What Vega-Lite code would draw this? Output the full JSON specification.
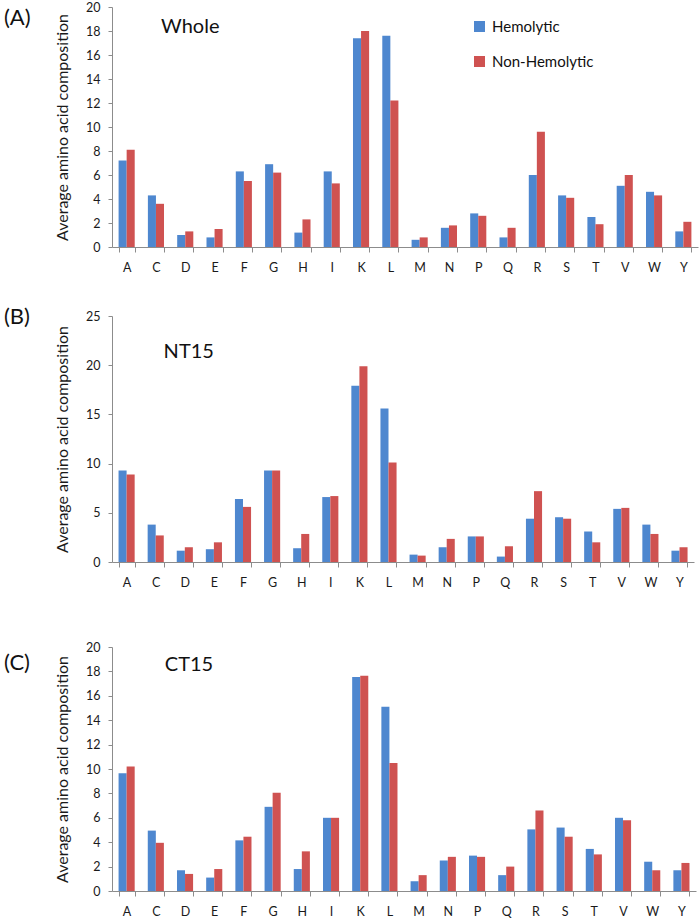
{
  "$schema": "https://vega.github.io/schema/vega-lite/v6.json",
  "background": "white",
  "padding": {"left": 4, "top": 1, "right": 2, "bottom": 0},
  "bounds": "flush",
  "spacing": 69,
  "config": {
    "font": "Lato",
    "view": {"stroke": null},
    "axis": {
      "domainColor": "#8c8c8c",
      "tickColor": "#8c8c8c",
      "labelColor": "#1a1a1a",
      "labelFont": "Lato",
      "labelFontSize": 12.5,
      "labelOverlap": false,
      "titleFont": "Lato",
      "titleFontSize": 16,
      "titleFontWeight": "normal",
      "titleColor": "#1a1a1a",
      "grid": false
    },
    "axisX": {"tickSize": 5, "labelPadding": 9.5, "tickBand": "extent", "labelAngle": 0, "title": null},
    "axisY": {"tickSize": 4, "labelPadding": 8, "titlePadding": 15},
    "title": {"font": "Lato", "fontSize": 22, "fontWeight": "normal", "color": "#111111", "anchor": "start", "frame": "group", "offset": 0, "baseline": "middle"}
  },
  "datasets": {
    "whole": [
      {"aa": "A", "group": "Hemolytic", "value": 7.2}, {"aa": "A", "group": "Non-Hemolytic", "value": 8.1},
      {"aa": "C", "group": "Hemolytic", "value": 4.3}, {"aa": "C", "group": "Non-Hemolytic", "value": 3.6},
      {"aa": "D", "group": "Hemolytic", "value": 1.0}, {"aa": "D", "group": "Non-Hemolytic", "value": 1.3},
      {"aa": "E", "group": "Hemolytic", "value": 0.8}, {"aa": "E", "group": "Non-Hemolytic", "value": 1.5},
      {"aa": "F", "group": "Hemolytic", "value": 6.3}, {"aa": "F", "group": "Non-Hemolytic", "value": 5.5},
      {"aa": "G", "group": "Hemolytic", "value": 6.9}, {"aa": "G", "group": "Non-Hemolytic", "value": 6.2},
      {"aa": "H", "group": "Hemolytic", "value": 1.2}, {"aa": "H", "group": "Non-Hemolytic", "value": 2.3},
      {"aa": "I", "group": "Hemolytic", "value": 6.3}, {"aa": "I", "group": "Non-Hemolytic", "value": 5.3},
      {"aa": "K", "group": "Hemolytic", "value": 17.4}, {"aa": "K", "group": "Non-Hemolytic", "value": 18.0},
      {"aa": "L", "group": "Hemolytic", "value": 17.6}, {"aa": "L", "group": "Non-Hemolytic", "value": 12.2},
      {"aa": "M", "group": "Hemolytic", "value": 0.6}, {"aa": "M", "group": "Non-Hemolytic", "value": 0.8},
      {"aa": "N", "group": "Hemolytic", "value": 1.6}, {"aa": "N", "group": "Non-Hemolytic", "value": 1.8},
      {"aa": "P", "group": "Hemolytic", "value": 2.8}, {"aa": "P", "group": "Non-Hemolytic", "value": 2.6},
      {"aa": "Q", "group": "Hemolytic", "value": 0.8}, {"aa": "Q", "group": "Non-Hemolytic", "value": 1.6},
      {"aa": "R", "group": "Hemolytic", "value": 6.0}, {"aa": "R", "group": "Non-Hemolytic", "value": 9.6},
      {"aa": "S", "group": "Hemolytic", "value": 4.3}, {"aa": "S", "group": "Non-Hemolytic", "value": 4.1},
      {"aa": "T", "group": "Hemolytic", "value": 2.5}, {"aa": "T", "group": "Non-Hemolytic", "value": 1.9},
      {"aa": "V", "group": "Hemolytic", "value": 5.1}, {"aa": "V", "group": "Non-Hemolytic", "value": 6.0},
      {"aa": "W", "group": "Hemolytic", "value": 4.6}, {"aa": "W", "group": "Non-Hemolytic", "value": 4.3},
      {"aa": "Y", "group": "Hemolytic", "value": 1.3}, {"aa": "Y", "group": "Non-Hemolytic", "value": 2.1}
    ],
    "nt15": [
      {"aa": "A", "group": "Hemolytic", "value": 9.3}, {"aa": "A", "group": "Non-Hemolytic", "value": 8.9},
      {"aa": "C", "group": "Hemolytic", "value": 3.8}, {"aa": "C", "group": "Non-Hemolytic", "value": 2.7},
      {"aa": "D", "group": "Hemolytic", "value": 1.15}, {"aa": "D", "group": "Non-Hemolytic", "value": 1.5},
      {"aa": "E", "group": "Hemolytic", "value": 1.3}, {"aa": "E", "group": "Non-Hemolytic", "value": 2.0},
      {"aa": "F", "group": "Hemolytic", "value": 6.4}, {"aa": "F", "group": "Non-Hemolytic", "value": 5.6},
      {"aa": "G", "group": "Hemolytic", "value": 9.3}, {"aa": "G", "group": "Non-Hemolytic", "value": 9.3},
      {"aa": "H", "group": "Hemolytic", "value": 1.4}, {"aa": "H", "group": "Non-Hemolytic", "value": 2.85},
      {"aa": "I", "group": "Hemolytic", "value": 6.6}, {"aa": "I", "group": "Non-Hemolytic", "value": 6.7},
      {"aa": "K", "group": "Hemolytic", "value": 17.9}, {"aa": "K", "group": "Non-Hemolytic", "value": 19.9},
      {"aa": "L", "group": "Hemolytic", "value": 15.6}, {"aa": "L", "group": "Non-Hemolytic", "value": 10.1},
      {"aa": "M", "group": "Hemolytic", "value": 0.75}, {"aa": "M", "group": "Non-Hemolytic", "value": 0.65},
      {"aa": "N", "group": "Hemolytic", "value": 1.5}, {"aa": "N", "group": "Non-Hemolytic", "value": 2.35},
      {"aa": "P", "group": "Hemolytic", "value": 2.6}, {"aa": "P", "group": "Non-Hemolytic", "value": 2.6},
      {"aa": "Q", "group": "Hemolytic", "value": 0.55}, {"aa": "Q", "group": "Non-Hemolytic", "value": 1.6},
      {"aa": "R", "group": "Hemolytic", "value": 4.4}, {"aa": "R", "group": "Non-Hemolytic", "value": 7.2},
      {"aa": "S", "group": "Hemolytic", "value": 4.55}, {"aa": "S", "group": "Non-Hemolytic", "value": 4.4},
      {"aa": "T", "group": "Hemolytic", "value": 3.1}, {"aa": "T", "group": "Non-Hemolytic", "value": 2.0},
      {"aa": "V", "group": "Hemolytic", "value": 5.4}, {"aa": "V", "group": "Non-Hemolytic", "value": 5.5},
      {"aa": "W", "group": "Hemolytic", "value": 3.8}, {"aa": "W", "group": "Non-Hemolytic", "value": 2.85},
      {"aa": "Y", "group": "Hemolytic", "value": 1.15}, {"aa": "Y", "group": "Non-Hemolytic", "value": 1.5}
    ],
    "ct15": [
      {"aa": "A", "group": "Hemolytic", "value": 9.65}, {"aa": "A", "group": "Non-Hemolytic", "value": 10.2},
      {"aa": "C", "group": "Hemolytic", "value": 4.95}, {"aa": "C", "group": "Non-Hemolytic", "value": 3.95},
      {"aa": "D", "group": "Hemolytic", "value": 1.7}, {"aa": "D", "group": "Non-Hemolytic", "value": 1.4},
      {"aa": "E", "group": "Hemolytic", "value": 1.1}, {"aa": "E", "group": "Non-Hemolytic", "value": 1.8},
      {"aa": "F", "group": "Hemolytic", "value": 4.15}, {"aa": "F", "group": "Non-Hemolytic", "value": 4.45},
      {"aa": "G", "group": "Hemolytic", "value": 6.9}, {"aa": "G", "group": "Non-Hemolytic", "value": 8.05},
      {"aa": "H", "group": "Hemolytic", "value": 1.8}, {"aa": "H", "group": "Non-Hemolytic", "value": 3.25},
      {"aa": "I", "group": "Hemolytic", "value": 6.0}, {"aa": "I", "group": "Non-Hemolytic", "value": 6.0},
      {"aa": "K", "group": "Hemolytic", "value": 17.55}, {"aa": "K", "group": "Non-Hemolytic", "value": 17.65},
      {"aa": "L", "group": "Hemolytic", "value": 15.1}, {"aa": "L", "group": "Non-Hemolytic", "value": 10.5},
      {"aa": "M", "group": "Hemolytic", "value": 0.8}, {"aa": "M", "group": "Non-Hemolytic", "value": 1.3},
      {"aa": "N", "group": "Hemolytic", "value": 2.5}, {"aa": "N", "group": "Non-Hemolytic", "value": 2.8},
      {"aa": "P", "group": "Hemolytic", "value": 2.9}, {"aa": "P", "group": "Non-Hemolytic", "value": 2.8},
      {"aa": "Q", "group": "Hemolytic", "value": 1.3}, {"aa": "Q", "group": "Non-Hemolytic", "value": 2.0},
      {"aa": "R", "group": "Hemolytic", "value": 5.05}, {"aa": "R", "group": "Non-Hemolytic", "value": 6.6},
      {"aa": "S", "group": "Hemolytic", "value": 5.2}, {"aa": "S", "group": "Non-Hemolytic", "value": 4.45},
      {"aa": "T", "group": "Hemolytic", "value": 3.45}, {"aa": "T", "group": "Non-Hemolytic", "value": 3.0},
      {"aa": "V", "group": "Hemolytic", "value": 6.0}, {"aa": "V", "group": "Non-Hemolytic", "value": 5.8},
      {"aa": "W", "group": "Hemolytic", "value": 2.4}, {"aa": "W", "group": "Non-Hemolytic", "value": 1.7},
      {"aa": "Y", "group": "Hemolytic", "value": 1.7}, {"aa": "Y", "group": "Non-Hemolytic", "value": 2.3}
    ]
  },
  "resolve": {"scale": {"x": "independent", "y": "independent"}, "legend": {"color": "independent"}},
  "vconcat": [
    {
      "width": 586,
      "height": 240,
      "title": {"text": "(A)", "dx": -108, "dy": 33},
      "layer": [
        {
          "data": {"name": "whole"},
          "mark": {"type": "bar"},
          "encoding": {
            "x": {"field": "aa", "type": "nominal", "scale": {"domain": ["A","C","D","E","F","G","H","I","K","L","M","N","P","Q","R","S","T","V","W","Y"], "paddingInner": 0.45, "paddingOuter": 0.225}},
            "xOffset": {"field": "group", "type": "nominal", "scale": {"domain": ["Hemolytic", "Non-Hemolytic"]}},
            "y": {"field": "value", "type": "quantitative", "scale": {"domain": [0, 20], "nice": false}, "axis": {"values": [0,2,4,6,8,10,12,14,16,18,20], "tickCount": 11, "labelOverlap": false, "title": "Average amino acid composition"}},
            "color": {"field": "group", "type": "nominal", "scale": {"domain": ["Hemolytic", "Non-Hemolytic"], "range": ["#4e87cf", "#cf5251"]},
              "legend": {"title": null, "orient": "none", "legendX": 360, "legendY": 12, "symbolType": "square", "symbolSize": 121, "symbolStrokeWidth": 0, "labelFontSize": 15, "labelFont": "Lato", "labelColor": "#111111", "labelOffset": 5, "rowPadding": 19}}
          }
        },
        {
          "data": {"values": [{"aa": "D", "value": 18.3, "label": "Whole"}]},
          "mark": {"type": "text", "fontSize": 20, "font": "Lato", "color": "#111111", "dx": 5},
          "encoding": {
            "x": {"field": "aa", "type": "nominal"},
            "y": {"field": "value", "type": "quantitative"},
            "text": {"field": "label"}
          }
        }
      ]
    },
    {
      "bounds": "flush",
      "spacing": 85,
      "resolve": {"scale": {"x": "independent", "y": "independent"}, "legend": {"color": "independent"}},
      "vconcat": [
        {
          "width": 582,
          "height": 246,
          "title": {"text": "(B)", "dx": -108, "dy": 23},
          "layer": [
            {
              "data": {"name": "nt15"},
              "mark": {"type": "bar"},
              "encoding": {
                "x": {"field": "aa", "type": "nominal", "scale": {"domain": ["A","C","D","E","F","G","H","I","K","L","M","N","P","Q","R","S","T","V","W","Y"], "paddingInner": 0.45, "paddingOuter": 0.225}},
                "xOffset": {"field": "group", "type": "nominal", "scale": {"domain": ["Hemolytic", "Non-Hemolytic"]}},
                "y": {"field": "value", "type": "quantitative", "scale": {"domain": [0, 25], "nice": false}, "axis": {"values": [0,5,10,15,20,25], "tickCount": 6, "labelOverlap": false, "title": "Average amino acid composition"}},
                "color": {"field": "group", "type": "nominal", "scale": {"domain": ["Hemolytic", "Non-Hemolytic"], "range": ["#4e87cf", "#cf5251"]}, "legend": null}
              }
            },
            {
              "data": {"values": [{"aa": "D", "value": 21.3, "label": "NT15"}]},
              "mark": {"type": "text", "fontSize": 20, "font": "Lato", "color": "#111111", "dx": 4},
              "encoding": {
                "x": {"field": "aa", "type": "nominal"},
                "y": {"field": "value", "type": "quantitative"},
                "text": {"field": "label"}
              }
            }
          ]
        },
        {
          "width": 584,
          "height": 244,
          "title": {"text": "(C)", "dx": -108, "dy": 38},
          "layer": [
            {
              "data": {"name": "ct15"},
              "mark": {"type": "bar"},
              "encoding": {
                "x": {"field": "aa", "type": "nominal", "scale": {"domain": ["A","C","D","E","F","G","H","I","K","L","M","N","P","Q","R","S","T","V","W","Y"], "paddingInner": 0.45, "paddingOuter": 0.225}},
                "xOffset": {"field": "group", "type": "nominal", "scale": {"domain": ["Hemolytic", "Non-Hemolytic"]}},
                "y": {"field": "value", "type": "quantitative", "scale": {"domain": [0, 20], "nice": false}, "axis": {"values": [0,2,4,6,8,10,12,14,16,18,20], "tickCount": 11, "labelOverlap": false, "title": "Average amino acid composition"}},
                "color": {"field": "group", "type": "nominal", "scale": {"domain": ["Hemolytic", "Non-Hemolytic"], "range": ["#4e87cf", "#cf5251"]}, "legend": null}
              }
            },
            {
              "data": {"values": [{"aa": "D", "value": 18.5, "label": "CT15"}]},
              "mark": {"type": "text", "fontSize": 20, "font": "Lato", "color": "#111111", "dx": 4},
              "encoding": {
                "x": {"field": "aa", "type": "nominal"},
                "y": {"field": "value", "type": "quantitative"},
                "text": {"field": "label"}
              }
            }
          ]
        }
      ]
    }
  ]
}
